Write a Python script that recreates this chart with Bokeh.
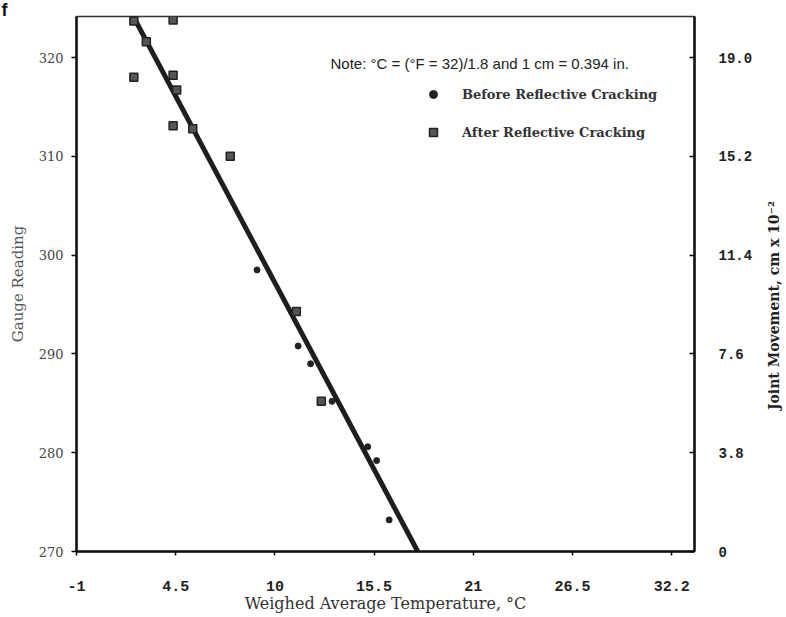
import math
from bokeh.plotting import figure
from bokeh.layouts import row
from bokeh.models import Range1d, LinearAxis, FixedTicker, Label, Legend, LegendItem, PrintfTickFormatter
from bokeh.embed import file_html
from bokeh.resources import INLINE

# ---- data ----
before_temp_c = [9.0, 11.3, 12.0, 13.2, 15.2, 15.7, 16.4]
before_gauge = [298.5, 290.8, 289.0, 285.2, 280.6, 279.2, 273.2]

after_temp_c = [2.1, 4.3, 2.8, 2.1, 4.3, 4.5, 4.3, 5.4, 7.5, 11.2, 12.6]
after_gauge = [323.7, 323.8, 321.6, 318.0, 318.2, 316.7, 313.1, 312.8, 310.0, 294.3, 285.2]

fit_temp_c = [2.0, 18.0]
fit_gauge = [324.4, 270.0]

# axis ticks (bottom axis is linear in deg F, labelled in deg C)
x_tick_f = [30, 40, 50, 60, 70, 80, 90]
x_tick_labels = ["-1", "4.5", "10", "15.5", "21", "26.5", "32.2"]
y_ticks = [270, 280, 290, 300, 310, 320]
right_ticks = [0, 3.8, 7.6, 11.4, 15.2, 19.0]
cm_per_gauge = 0.38


def c_to_f(c):
    return c * 1.8 + 32


x_lo, x_hi = 30, 92.3
y_lo, y_hi = 270, 324.15

p = figure(width=760, height=617, output_backend="svg", toolbar_location=None,
           x_range=Range1d(x_lo, x_hi), y_range=Range1d(y_lo, y_hi),
           min_border_left=76, min_border_right=66, min_border_top=16, min_border_bottom=66)
p.extra_y_ranges = {"jm": Range1d(0, (y_hi - y_lo) * cm_per_gauge)}
p.grid.visible = False
p.outline_line_color = "#333333"
p.outline_line_width = 1.5
p.background_fill_color = "white"
p.border_fill_color = "white"

p.title.text = "f"
p.title.align = "left"
p.title.offset = -75
try:
    p.title.standoff = -7
except Exception:
    p.title.standoff = 0
p.title.text_font = "Liberation Sans"
p.title.text_font_style = "bold"
p.title.text_font_size = "18px"
p.title.text_color = "#111111"

# bottom axis
xa = p.xaxis[0]
xa.ticker = FixedTicker(ticks=x_tick_f)
xa.major_label_overrides = {f: lab for f, lab in zip(x_tick_f, x_tick_labels)}
xa.axis_line_width = 2.5
xa.axis_line_color = "#111111"
xa.major_tick_out = 4
xa.major_tick_in = 0
xa.major_tick_line_width = 1.5
xa.minor_tick_line_color = None
xa.major_label_standoff = 25
xa.major_label_text_font = "Liberation Mono"
xa.major_label_text_font_style = "bold"
xa.major_label_text_font_size = "15px"
xa.major_label_text_color = "#222222"
xa.axis_label = "Weighed Average Temperature, \u00b0C"
xa.axis_label_text_font = "DejaVu Serif"
xa.axis_label_text_font_style = "normal"
xa.axis_label_text_font_size = "16px"
xa.axis_label_text_color = "#333333"
xa.axis_label_standoff = 0

# left axis
ya = p.yaxis[0]
ya.ticker = FixedTicker(ticks=y_ticks)
ya.axis_line_width = 2.5
ya.axis_line_color = "#111111"
ya.major_tick_out = 5
ya.major_tick_in = 0
ya.major_tick_line_width = 1.5
ya.minor_tick_line_color = None
ya.major_label_standoff = 8
ya.major_label_text_font = "DejaVu Serif"
ya.major_label_text_font_size = "13px"
ya.major_label_text_color = "#444444"
ya.axis_label = "Gauge Reading"
ya.axis_label_text_font = "DejaVu Serif"
ya.axis_label_text_font_style = "normal"
ya.axis_label_text_font_size = "15px"
ya.axis_label_text_color = "#555555"
ya.axis_label_standoff = 9

# right axis
ra = LinearAxis(y_range_name="jm", ticker=FixedTicker(ticks=right_ticks),
                formatter=PrintfTickFormatter(format="%.1f"))
ra.major_label_overrides = {0: "0"}
ra.axis_line_width = 2.5
ra.axis_line_color = "#111111"
ra.major_tick_out = 0
ra.major_tick_in = 5
ra.major_tick_line_width = 1.5
ra.minor_tick_line_color = None
ra.major_label_standoff = 24
ra.major_label_text_font = "Liberation Mono"
ra.major_label_text_font_style = "bold"
ra.major_label_text_font_size = "14px"
ra.major_label_text_color = "#222222"
p.add_layout(ra, "right")

# fitted line
p.line([c_to_f(c) for c in fit_temp_c], fit_gauge, line_color="#1e1e1e", line_width=5)

# points
r_after = p.scatter([c_to_f(c) for c in after_temp_c], after_gauge, marker="square", size=8,
                    fill_color="#555555", line_color="#222222", line_width=1.5)
r_before = p.scatter([c_to_f(c) for c in before_temp_c], before_gauge, marker="circle", size=6,
                     fill_color="#222222", line_color="#222222")

legend = Legend(items=[LegendItem(label="Before Reflective Cracking", renderers=[r_before]),
                       LegendItem(label="After Reflective Cracking", renderers=[r_after])],
                location=(347, 409), padding=0, margin=0, spacing=18,
                glyph_width=20, glyph_height=20, label_height=20, label_standoff=19,
                border_line_alpha=0, background_fill_alpha=0,
                label_text_font="DejaVu Serif", label_text_font_style="bold",
                label_text_font_size="13px", label_text_color="#333333")
p.add_layout(legend)

p.add_layout(Label(x=254, y=488, x_units="screen", y_units="screen",
                   text="Note:  \u00b0C = (\u00b0F = 32)/1.8 and 1 cm = 0.394 in.",
                   text_font="Liberation Sans", text_font_size="15px", text_color="#222222",
                   text_baseline="middle", text_align="left"))

# narrow strip on the right carrying the right-hand axis title
p2 = figure(width=26, height=617, output_backend="svg", toolbar_location=None,
            x_range=Range1d(0, 1), y_range=Range1d(0, 1),
            x_axis_type=None, y_axis_type=None, min_border=0)
p2.grid.visible = False
p2.outline_line_color = None
p2.background_fill_color = "white"
p2.border_fill_color = "white"
p2.add_layout(Label(x=13, y=246, x_units="screen", y_units="screen", angle=math.pi / 2,
                    text="Joint Movement, cm x 10\u207b\u00b2",
                    text_font="DejaVu Serif", text_font_style="bold", text_font_size="14px",
                    text_color="#222222", text_baseline="middle", text_align="center"))

layout = row(p, p2, spacing=0)
open("out.html", "w").write(file_html(layout, INLINE))
